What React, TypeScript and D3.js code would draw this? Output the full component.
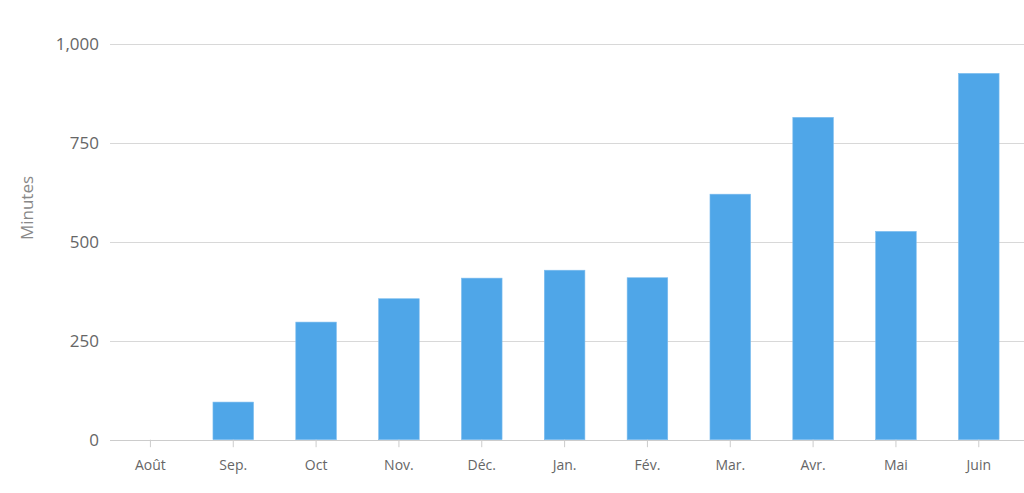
import React, { useEffect, useRef } from 'react';
import * as d3 from 'd3';

const months = ['Août', 'Sep.', 'Oct', 'Nov.', 'Déc.', 'Jan.', 'Fév.', 'Mar.', 'Avr.', 'Mai', 'Juin'];
const minutes = [0, 95, 297, 356, 408, 428, 409, 620, 814, 526, 925];
const yTicks = [0, 250, 500, 750, 1000];

const App: React.FC = () => {
  const svgRef = useRef<SVGSVGElement>(null);

  useEffect(() => {
    if (!svgRef.current) return;
    d3.select(svgRef.current).selectAll('*').remove();

    const width = 1024;
    const height = 493;
    const left = 110;
    const right = 1024;
    const top = 43.7;
    const bottom = 439.7;

    const svg = d3.select(svgRef.current)
      .attr('width', width)
      .attr('height', height)
      .style('font-family', '"Open Sans", sans-serif');

    const x = d3.scaleBand<string>()
      .domain(months)
      .range([109, 1020.2])
      .paddingInner(0.51)
      .paddingOuter(0.255);

    const y = d3.scaleLinear()
      .domain([0, 1000])
      .range([bottom, top]);

    // gridlines
    svg.append('g')
      .selectAll('line')
      .data(yTicks.filter(d => d > 0))
      .enter()
      .append('line')
      .attr('x1', left)
      .attr('x2', right)
      .attr('y1', d => Math.round(y(d)) + 0.5)
      .attr('y2', d => Math.round(y(d)) + 0.5)
      .attr('stroke', '#d8d8d8')
      .attr('stroke-width', 1);

    // y labels
    svg.append('g')
      .selectAll('text')
      .data(yTicks)
      .enter()
      .append('text')
      .attr('x', 99)
      .attr('y', d => y(d))
      .attr('dy', '0.36em')
      .attr('text-anchor', 'end')
      .style('font-size', '17px')
      .attr('fill', '#666666')
      .text(d => d3.format(',')(d));

    // axis title
    svg.append('text')
      .attr('transform', 'translate(33,208) rotate(-90)')
      .attr('text-anchor', 'middle')
      .style('font-size', '17px')
      .attr('fill', '#888888')
      .text('Minutes');

    // bars
    svg.append('g')
      .selectAll('rect')
      .data(minutes)
      .enter()
      .append('rect')
      .attr('x', (d, i) => x(months[i])!)
      .attr('width', x.bandwidth())
      .attr('y', d => y(d))
      .attr('height', d => bottom - y(d))
      .attr('fill', '#4fa6e8')
      .attr('stroke', '#7dbdee')
      .attr('stroke-width', 0.6);

    // x axis line
    svg.append('line')
      .attr('x1', left)
      .attr('x2', right)
      .attr('y1', Math.round(bottom) + 0.5)
      .attr('y2', Math.round(bottom) + 0.5)
      .attr('stroke', '#cccccc');

    const ticks = svg.append('g')
      .selectAll('g')
      .data(months)
      .enter()
      .append('g')
      .attr('transform', d => `translate(${x(d)! + x.bandwidth() / 2},0)`);

    ticks.append('line')
      .attr('y1', bottom)
      .attr('y2', bottom + 7.5)
      .attr('stroke', '#cccccc');

    ticks.append('text')
      .attr('y', 465)
      .attr('dy', '0.35em')
      .attr('text-anchor', 'middle')
      .style('font-size', '14px')
      .attr('fill', '#666666')
      .text(d => d);
  }, []);

  return (
    <svg ref={svgRef} style={{ position: 'absolute', left: 0, top: 0, display: 'block' }}></svg>
  );
};

export default App;
